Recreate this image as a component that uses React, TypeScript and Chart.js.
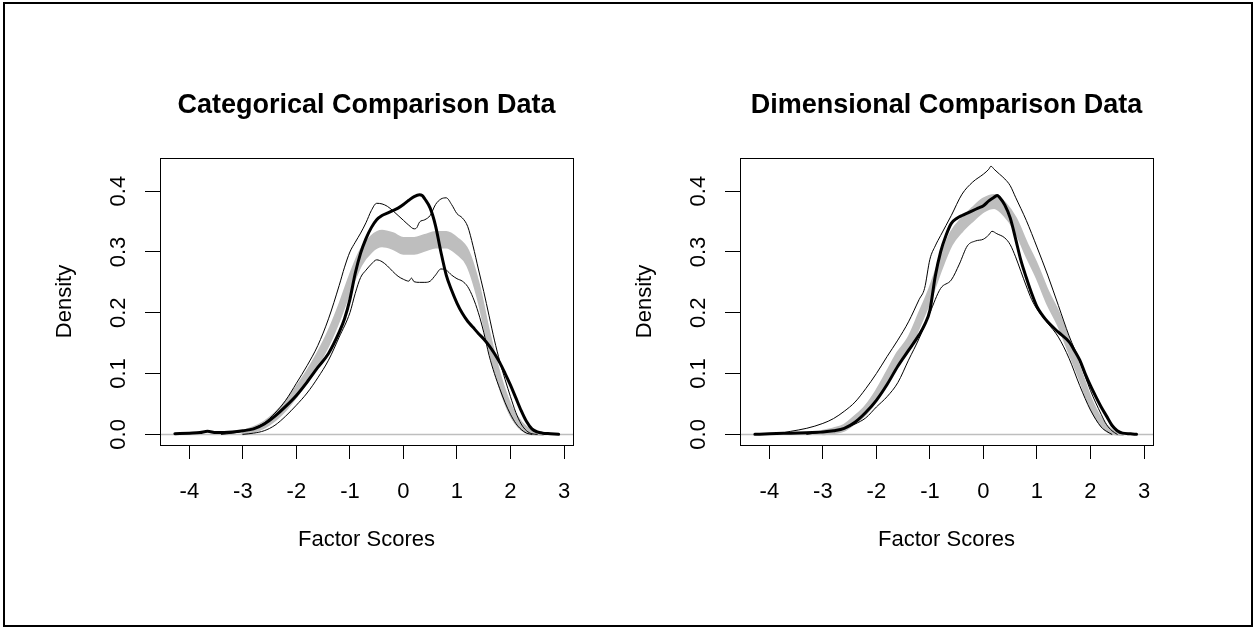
import React, { useEffect, useRef } from "react";
import { Chart, registerables } from "chart.js";

Chart.register(...registerables);

// ---------- axes ----------
const xTicks = [-4, -3, -2, -1, 0, 1, 2, 3];
const xTickLabels = ["-4", "-3", "-2", "-1", "0", "1", "2", "3"];
const yTicks = [0, 0.1, 0.2, 0.3, 0.4];
const yTickLabels = ["0.0", "0.1", "0.2", "0.3", "0.4"];
const X_MIN = -4.548;
const X_MAX = 3.168;
const Y_MIN = -0.0175;
const Y_MAX = 0.4545;

// ---------- Categorical Comparison Data (left panel) ----------
const catObsX = [-4.27, -4.0, -3.8, -3.66, -3.5, -3.2, -3.0, -2.8, -2.6, -2.4, -2.2, -2.0, -1.8, -1.6, -1.4, -1.2, -1.1, -1.0, -0.9, -0.8, -0.7, -0.6, -0.5, -0.4, -0.3, -0.2, -0.1, 0.0, 0.1, 0.2, 0.3, 0.35, 0.4, 0.5, 0.6, 0.7, 0.8, 0.9, 1.0, 1.1, 1.2, 1.3, 1.4, 1.5, 1.6, 1.7, 1.8, 1.9, 2.0, 2.1, 2.2, 2.3, 2.4, 2.5, 2.6, 2.75, 2.9];
const catObsY = [0.001, 0.002, 0.003, 0.005, 0.003, 0.004, 0.006, 0.009, 0.017, 0.03, 0.046, 0.064, 0.086, 0.11, 0.133, 0.168, 0.19, 0.222, 0.265, 0.298, 0.322, 0.34, 0.353, 0.36, 0.364, 0.368, 0.372, 0.378, 0.385, 0.391, 0.394, 0.393, 0.387, 0.372, 0.343, 0.3, 0.262, 0.237, 0.216, 0.199, 0.186, 0.176, 0.166, 0.157, 0.146, 0.133, 0.118, 0.1, 0.081, 0.06, 0.039, 0.021, 0.009, 0.004, 0.002, 0.001, 0.0];

const catUpX = [-3.4, -3.2, -3.0, -2.8, -2.6, -2.4, -2.2, -2.0, -1.8, -1.6, -1.4, -1.2, -1.1, -1.0, -0.9, -0.8, -0.7, -0.6, -0.5, -0.4, -0.3, -0.2, -0.1, 0.0, 0.1, 0.2, 0.25, 0.3, 0.4, 0.5, 0.6, 0.7, 0.8, 0.9, 1.0, 1.1, 1.2, 1.3, 1.4, 1.5, 1.6, 1.7, 1.8, 1.9, 2.0, 2.1, 2.2, 2.3, 2.4, 2.5];
const catUpY = [0.0, 0.002, 0.005, 0.01, 0.019, 0.035, 0.056, 0.084, 0.113, 0.146, 0.19, 0.245, 0.275, 0.3, 0.316, 0.331, 0.348, 0.368, 0.38, 0.379, 0.375, 0.368, 0.36, 0.352, 0.344, 0.338, 0.34, 0.349, 0.353, 0.36, 0.378, 0.387, 0.389, 0.378, 0.363, 0.356, 0.342, 0.31, 0.272, 0.235, 0.195, 0.155, 0.12, 0.09, 0.062, 0.036, 0.017, 0.006, 0.001, 0.0];

const catLoX = [-3.0, -2.8, -2.6, -2.4, -2.2, -2.0, -1.8, -1.6, -1.4, -1.2, -1.0, -0.9, -0.8, -0.7, -0.6, -0.5, -0.4, -0.3, -0.2, -0.1, 0.0, 0.1, 0.15, 0.2, 0.3, 0.4, 0.5, 0.6, 0.7, 0.8, 0.9, 1.0, 1.1, 1.2, 1.3, 1.4, 1.5, 1.6, 1.7, 1.8, 1.9, 2.0, 2.1, 2.2, 2.3, 2.4];
const catLoY = [0.0, 0.002, 0.006, 0.015, 0.03, 0.048, 0.068, 0.093, 0.122, 0.16, 0.2, 0.232, 0.258, 0.27, 0.28, 0.287, 0.284, 0.277, 0.268, 0.26, 0.255, 0.252, 0.257, 0.251, 0.25, 0.25, 0.252, 0.262, 0.272, 0.27, 0.262, 0.256, 0.252, 0.243, 0.225, 0.2, 0.168, 0.13, 0.1, 0.075, 0.052, 0.033, 0.018, 0.008, 0.002, 0.0];

// comparison-data band (shared x grid)
const grayX = [-3.0, -2.8, -2.6, -2.4, -2.2, -2.0, -1.8, -1.6, -1.4, -1.2, -1.0, -0.8, -0.6, -0.4, -0.2, 0.0, 0.2, 0.4, 0.6, 0.8, 1.0, 1.2, 1.4, 1.6, 1.8, 2.0, 2.2, 2.4, 2.6];
const catGrayLo = [0.001, 0.005, 0.012, 0.024, 0.041, 0.063, 0.087, 0.115, 0.148, 0.189, 0.236, 0.278, 0.301, 0.31, 0.306, 0.298, 0.298, 0.303, 0.308, 0.308, 0.298, 0.278, 0.223, 0.144, 0.079, 0.033, 0.009, 0.001, 0.0];
const catGrayUp = [0.005, 0.011, 0.02, 0.034, 0.053, 0.077, 0.103, 0.133, 0.168, 0.211, 0.26, 0.302, 0.325, 0.334, 0.33, 0.322, 0.322, 0.327, 0.332, 0.332, 0.322, 0.302, 0.247, 0.166, 0.097, 0.047, 0.019, 0.005, 0.0];

// ---------- Dimensional Comparison Data (right panel) ----------
const dimObsX = [-4.27, -4.0, -3.6, -3.2, -3.0, -2.8, -2.6, -2.4, -2.2, -2.0, -1.8, -1.6, -1.4, -1.2, -1.1, -1.0, -0.9, -0.8, -0.7, -0.6, -0.5, -0.4, -0.3, -0.2, -0.1, 0.0, 0.1, 0.2, 0.26, 0.3, 0.4, 0.5, 0.6, 0.7, 0.8, 0.9, 1.0, 1.1, 1.2, 1.4, 1.6, 1.7, 1.8, 1.9, 2.0, 2.1, 2.2, 2.3, 2.4, 2.5, 2.6, 2.75, 2.86];
const dimObsY = [0.0, 0.001, 0.002, 0.003, 0.004, 0.006, 0.01, 0.02, 0.036, 0.056, 0.082, 0.112, 0.138, 0.164, 0.18, 0.204, 0.26, 0.3, 0.327, 0.347, 0.355, 0.36, 0.364, 0.368, 0.372, 0.376, 0.384, 0.39, 0.393, 0.39, 0.377, 0.356, 0.322, 0.286, 0.258, 0.232, 0.21, 0.196, 0.185, 0.168, 0.152, 0.138, 0.122, 0.1, 0.08, 0.062, 0.045, 0.03, 0.015, 0.006, 0.002, 0.001, 0.0];

const dimUpX = [-3.9, -3.6, -3.3, -3.0, -2.8, -2.6, -2.4, -2.2, -2.0, -1.8, -1.6, -1.4, -1.2, -1.1, -1.0, -0.9, -0.8, -0.6, -0.4, -0.2, 0.0, 0.1, 0.14, 0.2, 0.3, 0.4, 0.5, 0.6, 0.8, 1.0, 1.2, 1.4, 1.6, 1.8, 2.0, 2.2, 2.3, 2.4, 2.5];
const dimUpY = [0.0, 0.005, 0.01, 0.018, 0.026, 0.038, 0.053, 0.075, 0.1, 0.128, 0.155, 0.185, 0.222, 0.24, 0.288, 0.31, 0.327, 0.36, 0.395, 0.415, 0.428, 0.436, 0.441, 0.436, 0.428, 0.42, 0.409, 0.39, 0.352, 0.308, 0.262, 0.212, 0.162, 0.12, 0.072, 0.033, 0.016, 0.006, 0.0];

const dimLoX = [-3.3, -3.0, -2.8, -2.6, -2.4, -2.2, -2.0, -1.8, -1.6, -1.4, -1.2, -1.0, -0.8, -0.6, -0.45, -0.3, -0.15, 0.0, 0.1, 0.16, 0.25, 0.4, 0.5, 0.6, 0.7, 0.8, 0.9, 1.0, 1.2, 1.4, 1.6, 1.8, 2.0, 2.2, 2.3, 2.4];
const dimLoY = [0.0, 0.004, 0.006, 0.01, 0.017, 0.027, 0.045, 0.062, 0.085, 0.122, 0.158, 0.2, 0.24, 0.254, 0.28, 0.31, 0.318, 0.321, 0.328, 0.334, 0.33, 0.323, 0.312, 0.292, 0.268, 0.244, 0.222, 0.206, 0.183, 0.16, 0.125, 0.08, 0.04, 0.012, 0.005, 0.0];

const dimGrayLo = [0.001, 0.003, 0.007, 0.019, 0.034, 0.057, 0.086, 0.116, 0.138, 0.178, 0.22, 0.27, 0.312, 0.335, 0.352, 0.367, 0.373, 0.36, 0.335, 0.295, 0.258, 0.215, 0.18, 0.136, 0.092, 0.045, 0.015, 0.002, 0.0];
const dimGrayUp = [0.005, 0.009, 0.015, 0.029, 0.046, 0.071, 0.102, 0.134, 0.158, 0.198, 0.24, 0.29, 0.332, 0.355, 0.372, 0.387, 0.393, 0.38, 0.355, 0.315, 0.278, 0.235, 0.2, 0.154, 0.108, 0.059, 0.025, 0.006, 0.0];

const titles = ["Categorical Comparison Data", "Dimensional Comparison Data"];
const xAxisTitle = "Factor Scores";
const yAxisTitle = "Density";

// ---------- styling ----------
const GRAY = "#BEBEBE";
const FONT = "'Liberation Sans', Arial, Helvetica, sans-serif";
const CANVAS = 627;

Chart.defaults.font.family = FONT;

type Series = {
  obsX: number[]; obsY: number[];
  upX: number[]; upY: number[];
  loX: number[]; loY: number[];
  grayLo: number[]; grayUp: number[];
};

const pts = (xs: number[], ys: number[]) => xs.map((x, i) => ({ x, y: ys[i] }));

const rFrame = {
  id: "rFrame",
  beforeDatasetsDraw(chart: any) {
    const { ctx, chartArea: a, scales } = chart;
    const py = Math.round(scales.y.getPixelForValue(0)) + 0.5;
    ctx.save();
    ctx.strokeStyle = GRAY;
    ctx.lineWidth = 1.5;
    ctx.beginPath();
    ctx.moveTo(a.left, py);
    ctx.lineTo(a.right, py);
    ctx.stroke();
    ctx.restore();
  },
  afterDatasetsDraw(chart: any) {
    const { ctx, chartArea: a } = chart;
    ctx.save();
    ctx.strokeStyle = "#000";
    ctx.lineWidth = 1;
    const l = Math.round(a.left) + 0.5;
    const t = Math.round(a.top) + 0.5;
    const r = Math.round(a.right) + 0.5;
    const b = Math.round(a.bottom) + 0.5;
    ctx.strokeRect(l, t, r - l, b - t);
    ctx.restore();
  },
};

function makeConfig(title: string, s: Series): any {
  return {
    type: "line",
    data: {
      datasets: [
        { data: pts(s.obsX, s.obsY), borderColor: "#000", borderWidth: 3, fill: false, order: 0 },
        { data: pts(s.upX, s.upY), borderColor: "#000", borderWidth: 1, fill: false, order: 1 },
        { data: pts(s.loX, s.loY), borderColor: "#000", borderWidth: 1, fill: false, order: 1 },
        { data: pts(grayX, s.grayUp), borderColor: GRAY, backgroundColor: GRAY, borderWidth: 3, fill: "+1", order: 2 },
        { data: pts(grayX, s.grayLo), borderColor: GRAY, borderWidth: 3, fill: false, order: 2 },
      ],
    },
    options: {
      responsive: false,
      animation: false,
      devicePixelRatio: 1,
      layout: { padding: { top: 0, left: 0, right: 54, bottom: 0 } },
      elements: {
        point: { radius: 0, hoverRadius: 0 },
        line: { cubicInterpolationMode: "monotone", borderJoinStyle: "round", borderCapStyle: "round" },
      },
      plugins: {
        legend: { display: false },
        tooltip: { enabled: false },
        title: {
          display: true,
          text: title,
          fullSize: false,
          color: "#000",
          font: { size: 27, weight: "bold", lineHeight: 1.2, family: FONT },
          padding: { top: 89.5, bottom: 36.1 },
        },
      },
      scales: {
        x: {
          type: "linear",
          min: X_MIN,
          max: X_MAX,
          bounds: "data",
          afterBuildTicks: (sc: any) => { sc.ticks = xTicks.map((v) => ({ value: v })); },
          afterFit: (sc: any) => { sc.height = 182; },
          grid: { display: true, drawOnChartArea: false, drawTicks: true, tickLength: 14, color: "#000", lineWidth: 1 },
          border: { display: false },
          ticks: {
            color: "#000",
            font: { size: 22, family: FONT },
            padding: 20,
            autoSkip: false,
            minRotation: 0,
            maxRotation: 0,
            callback: (_v: any, i: number) => xTickLabels[i],
          },
          title: { display: true, text: xAxisTitle, color: "#000", font: { size: 22, family: FONT }, padding: { top: 0, bottom: 74 } },
        },
        y: {
          type: "linear",
          min: Y_MIN,
          max: Y_MAX,
          bounds: "data",
          afterBuildTicks: (sc: any) => { sc.ticks = yTicks.map((v) => ({ value: v })); },
          afterFit: (sc: any) => { sc.width = 160; },
          grid: { display: true, drawOnChartArea: false, drawTicks: true, tickLength: 15, color: "#000", lineWidth: 1 },
          border: { display: false },
          ticks: {
            color: "#000",
            font: { size: 22, family: FONT },
            padding: 11,
            autoSkip: false,
            minRotation: 90,
            maxRotation: 90,
            crossAlign: "center",
            callback: (_v: any, i: number) => yTickLabels[i],
          },
          title: { display: true, text: yAxisTitle, color: "#000", font: { size: 22, family: FONT }, padding: { top: 52, bottom: 0 } },
        },
      },
    },
    plugins: [rFrame],
  };
}

function Panel({ left, title, series }: { left: number; title: string; series: Series }) {
  const ref = useRef<HTMLCanvasElement | null>(null);
  useEffect(() => {
    if (!ref.current) return;
    const chart = new Chart(ref.current, makeConfig(title, series));
    return () => chart.destroy();
  }, []);
  return (
    <canvas
      ref={ref}
      width={CANVAS}
      height={CANVAS}
      style={{ position: "absolute", left, top: 0, width: CANVAS, height: CANVAS }}
    />
  );
}

const catSeries: Series = {
  obsX: catObsX, obsY: catObsY, upX: catUpX, upY: catUpY, loX: catLoX, loY: catLoY,
  grayLo: catGrayLo, grayUp: catGrayUp,
};
const dimSeries: Series = {
  obsX: dimObsX, obsY: dimObsY, upX: dimUpX, upY: dimUpY, loX: dimLoX, loY: dimLoY,
  grayLo: dimGrayLo, grayUp: dimGrayUp,
};

export default function App() {
  return (
    <div style={{ position: "absolute", left: 0, top: 0, width: 1254, height: 627, background: "#fff", overflow: "hidden" }}>
      <div
        style={{
          position: "absolute", left: 3, top: 2, width: 1250, height: 625,
          border: "2px solid #000", boxSizing: "border-box",
        }}
      />
      <Panel left={0} title={titles[0]} series={catSeries} />
      <Panel left={580} title={titles[1]} series={dimSeries} />
    </div>
  );
}
